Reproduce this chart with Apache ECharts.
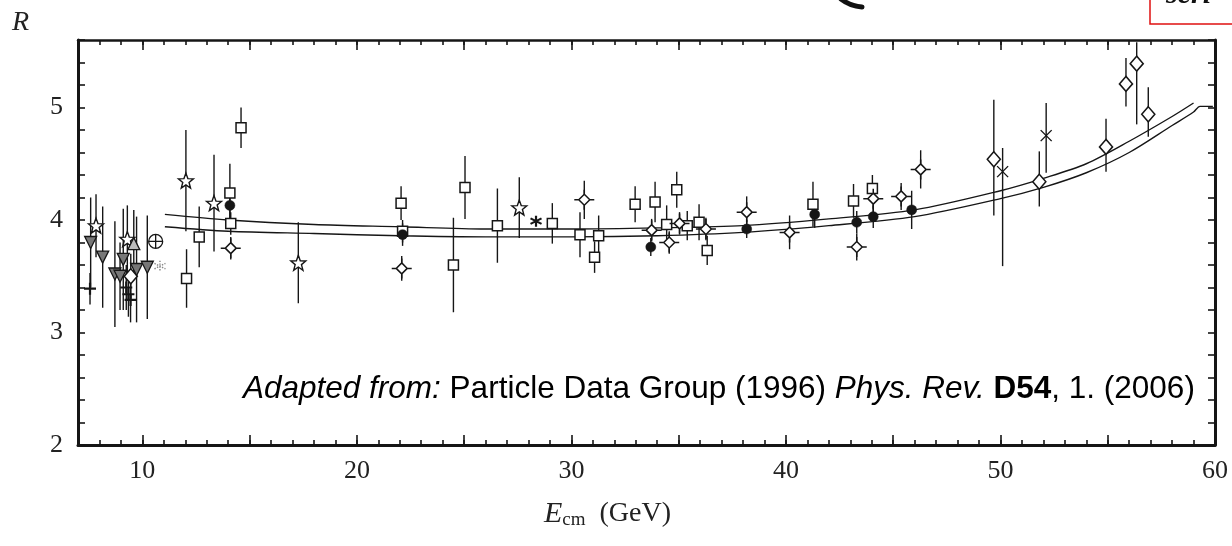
<!DOCTYPE html>
<html>
<head>
<meta charset="utf-8">
<script src="https://cdn.jsdelivr.net/npm/echarts@6/dist/echarts.min.js"></script>
<style>
html,body{margin:0;padding:0;background:#fff;}
#chart{width:1232px;height:546px;}
</style>
</head>
<body>
<div id="chart"></div>
<script>
// ---------- axis ticks / labels ----------
const xTickLabels = [10, 20, 30, 40, 50, 60];
const xMajorTicks = [10, 15, 20, 25, 30, 35, 40, 45, 50, 55, 60];
const yTickLabels = [2, 3, 4, 5];

// ---------- data (E_cm in GeV, R, symmetric error) ----------
// open stars
const starE = [7.84, 9.3, 12.03, 13.34, 17.27, 27.57];
const starR = [3.95, 3.83, 4.35, 4.15, 3.62, 4.11];
const starErr = [0.28, 0.3, 0.45, 0.43, 0.36, 0.27];

// open squares
const sqE = [12.06, 12.65, 14.08, 14.12, 14.6, 22.06, 22.13, 24.5, 25.04, 26.55, 29.11, 30.4, 31.08, 31.27, 32.97, 33.9, 34.44, 34.91, 35.4, 35.95, 36.33, 41.26, 43.15, 44.03];
const sqR = [3.48, 3.85, 4.24, 3.97, 4.82, 4.15, 3.90, 3.60, 4.29, 3.95, 3.97, 3.87, 3.67, 3.86, 4.14, 4.16, 3.96, 4.27, 3.95, 3.98, 3.73, 4.14, 4.17, 4.28];
const sqErr = [0.26, 0.27, 0.26, 0.1, 0.18, 0.15, 0.1, 0.42, 0.28, 0.33, 0.18, 0.2, 0.14, 0.18, 0.16, 0.18, 0.17, 0.16, 0.13, 0.16, 0.13, 0.2, 0.15, 0.12];

// open diamonds with cross arms
const spE = [14.12, 22.09, 30.6, 33.74, 34.56, 35.04, 36.27, 38.17, 40.17, 43.3, 44.07, 45.37, 46.28];
const spR = [3.75, 3.57, 4.18, 3.91, 3.80, 3.97, 3.92, 4.07, 3.89, 3.76, 4.19, 4.21, 4.45];
const spErr = [0.1, 0.11, 0.17, 0.1, 0.1, 0.1, 0.1, 0.14, 0.15, 0.12, 0.13, 0.12, 0.17];

// plain open diamonds (asymmetric errors)
const dE = [9.46, 49.69, 51.81, 54.92, 55.85, 56.35, 56.89];
const dR = [3.50, 4.54, 4.34, 4.65, 5.21, 5.39, 4.94];
const dErrUp = [0.2, 0.53, 0.27, 0.25, 0.23, 0.19, 0.24];
const dErrDn = [0.2, 0.5, 0.22, 0.22, 0.2, 0.54, 0.2];

// filled circles
const cE = [14.08, 22.13, 33.7, 38.17, 41.34, 43.3, 44.07, 45.86];
const cR = [4.13, 3.87, 3.76, 3.92, 4.05, 3.98, 4.03, 4.09];
const cErr = [0.15, 0.1, 0.08, 0.08, 0.12, 0.1, 0.1, 0.17];

// down triangles (grey)
const tdE = [7.59, 8.15, 8.72, 8.96, 9.11, 9.73, 10.23];
const tdR = [3.80, 3.67, 3.52, 3.50, 3.65, 3.56, 3.58];
const tdErr = [0.4, 0.45, 0.47, 0.3, 0.45, 0.47, 0.46];

// up triangle
const tuE = [9.6];
const tuR = [3.79];
const tuErr = [0.3];

// plus markers
const plE = [7.56, 9.25, 9.35, 9.45];
const plR = [3.39, 3.40, 3.34, 3.29];
const plErr = [0.14, 0.2, 0.2, 0.2];

// circled plus
const opE = [10.62];
const opR = [3.81];

// asterisks
const asE = [28.35];
const asR = [3.99];
const asGreyE = [10.82];
const asGreyR = [3.59];

// crosses (x)
const xE = [50.1, 52.13];
const xR = [4.43, 4.75];
const xErrUp = [0.21, 0.29];
const xErrDn = [0.84, 0.33];

// theory band (two curves)
const thE1 = [11.05, 14, 18, 22, 26, 30, 34, 38, 42, 46, 50, 52, 54, 56, 58, 59.0];
const thR1 = [4.05, 4.00, 3.96, 3.94, 3.92, 3.92, 3.93, 3.95, 4.01, 4.09, 4.26, 4.37, 4.50, 4.70, 4.92, 5.04];
const thE2 = [11.05, 14, 18, 22, 26, 30, 34, 38, 42, 46, 50, 52, 54, 56, 58, 59.0, 59.3, 59.9];
const thR2 = [3.94, 3.90, 3.88, 3.86, 3.85, 3.85, 3.86, 3.89, 3.95, 4.03, 4.19, 4.29, 4.42, 4.60, 4.84, 4.96, 5.01, 5.01];

// ---------- helpers ----------
const zip = (a, b) => a.map((v, i) => [v, b[i]]);
const errBars = [];
function addErr(E, R, up, dn) {
  E.forEach((e, i) => {
    const u = Array.isArray(up) ? up[i] : up;
    const d = dn === undefined ? u : (Array.isArray(dn) ? dn[i] : dn);
    if (u || d) errBars.push([e, R[i] - d, R[i] + u]);
  });
}
addErr(starE, starR, starErr);
addErr(sqE, sqR, sqErr);
addErr(spE, spR, spErr);
addErr(dE, dR, dErrUp, dErrDn);
addErr(cE, cR, cErr);
addErr(tdE, tdR, tdErr);
addErr(tuE, tuR, tuErr);
addErr(plE, plR, plErr);
addErr(xE, xR, xErrUp, xErrDn);

const STAR = 'path://M0,-10 L2.47,-3.4 L9.51,-3.09 L3.99,1.3 L5.88,8.09 L0,4.2 L-5.88,8.09 L-3.99,1.3 L-9.51,-3.09 L-2.47,-3.4 Z';
const SPARK = 'path://M0,-10 L0,-5.5 M0,5.5 L0,10 M-10,0 L-5.5,0 M5.5,0 L10,0 M0,-5.5 L5.5,0 L0,5.5 L-5.5,0 Z';
const PLUS = 'path://M0,-10 L0,10 M-10,0 L10,0';
const CROSS = 'path://M-10,-10 L10,10 M-10,10 L10,-10';
const ASTER = 'path://M0,-10 L0,10 M-8.7,-5 L8.7,5 M-8.7,5 L8.7,-5';
const OPLUS = 'path://M-10,0 A10,10 0 1,0 10,0 A10,10 0 1,0 -10,0 Z M-10,0 L10,0 M0,-10 L0,10';

const INK = '#161616';
const serif = '"Liberation Serif", "DejaVu Serif", serif';
const sans = '"Liberation Sans", Arial, sans-serif';

function scat(name, E, R, symbol, size, fill, lw, extra) {
  return Object.assign({
    name, type: 'scatter', data: zip(E, R), symbol, symbolSize: size,
    itemStyle: { color: fill, borderColor: INK, borderWidth: lw, opacity: 1 },
    z: 5, silent: true, clip: true
  }, extra || {});
}

const chart = echarts.init(document.getElementById('chart'), null, { renderer: 'canvas' });

const axisTickBase = { inside: true, lineStyle: { color: INK, width: 1.6 } };

const option = {
  backgroundColor: '#ffffff',
  animation: false,
  grid: { left: 78, right: 17, top: 40, bottom: 101, containLabel: false },
  xAxis: [
    { type: 'value', min: 7, max: 60, interval: 1, position: 'bottom',
      axisLine: { show: true, lineStyle: { color: INK, width: 3 } },
      axisTick: Object.assign({ length: 5 }, axisTickBase),
      axisLabel: { customValues: xTickLabels, color: '#222', fontFamily: serif, fontSize: 26, margin: 13 },
      splitLine: { show: false } },
    { type: 'value', min: 7, max: 60, position: 'bottom',
      axisLine: { show: false }, axisLabel: { show: false }, splitLine: { show: false },
      axisTick: Object.assign({ length: 10, customValues: xMajorTicks }, axisTickBase) },
    { type: 'value', min: 7, max: 60, interval: 1, position: 'top',
      axisLine: { show: true, lineStyle: { color: INK, width: 2.5 } },
      axisTick: Object.assign({ length: 5 }, axisTickBase),
      axisLabel: { show: false }, splitLine: { show: false } },
    { type: 'value', min: 7, max: 60, position: 'top',
      axisLine: { show: false }, axisLabel: { show: false }, splitLine: { show: false },
      axisTick: Object.assign({ length: 10, customValues: xMajorTicks }, axisTickBase) }
  ],
  yAxis: [
    { type: 'value', min: 2, max: 5.6, interval: 0.2, position: 'left',
      axisLine: { show: true, lineStyle: { color: INK, width: 3 } },
      axisTick: Object.assign({ length: 7 }, axisTickBase),
      axisLabel: { customValues: yTickLabels, color: '#222', fontFamily: serif, fontSize: 26, margin: 15 },
      splitLine: { show: false } },
    { type: 'value', min: 2, max: 5.6, interval: 0.2, position: 'right',
      axisLine: { show: true, lineStyle: { color: INK, width: 3 } },
      axisTick: Object.assign({ length: 7 }, axisTickBase),
      axisLabel: { show: false }, splitLine: { show: false } }
  ],
  series: [
    { name: 'theory upper', type: 'line', data: zip(thE1, thR1), showSymbol: false, smooth: 0.3,
      lineStyle: { color: INK, width: 1.4 }, z: 2, silent: true },
    { name: 'theory lower', type: 'line', data: zip(thE2, thR2), showSymbol: false, smooth: 0.3,
      lineStyle: { color: INK, width: 1.4 }, z: 2, silent: true },
    { name: 'errors', type: 'custom', data: errBars, clip: true, z: 3, silent: true,
      renderItem: function (params, api) {
        const p1 = api.coord([api.value(0), api.value(1)]);
        const p2 = api.coord([api.value(0), api.value(2)]);
        return { type: 'line', shape: { x1: p1[0], y1: p1[1], x2: p2[0], y2: p2[1] },
          style: { stroke: INK, lineWidth: 1.4 } };
      } },
    scat('stars', starE, starR, STAR, 15, '#fff', 1.4),
    scat('squares', sqE, sqR, 'rect', 10, '#fff', 1.5),
    scat('diamonds arms', spE, spR, SPARK, 20, '#fff', 1.5),
    scat('diamonds', dE, dR, 'diamond', [13, 15], '#fff', 1.6),
    scat('circles', cE, cR, 'circle', 10, INK, 0.5),
    scat('down triangles', tdE, tdR, 'triangle', 12, '#777', 1.3, { symbolRotate: 180 }),
    scat('up triangle', tuE, tuR, 'triangle', 12, '#bbb', 1.3),
    scat('plus', plE, plR, PLUS, 12, INK, 2.2),
    scat('circled plus', opE, opR, OPLUS, 14, '#fff', 1.3),
    scat('asterisk', asE, asR, ASTER, 11, INK, 2.2),
    scat('asterisk grey', asGreyE, asGreyR, ASTER, 11, '#666', 1.3, { itemStyle: { color: '#666', borderColor: '#666', borderWidth: 1.4, borderType: 'dotted' } }),
    scat('cross', xE, xR, CROSS, 11, INK, 1.4)
  ],
  graphic: [
    { type: 'text', left: 12, top: 9, style: { text: 'R', font: 'italic 28px ' + serif, fill: '#222' } },
    { type: 'text', left: 544, top: 499, style: {
        text: '{e|E}{s|cm}{n|  (GeV)}',
        rich: {
          e: { font: 'italic 30px ' + serif, fill: '#222' },
          s: { font: '19px ' + serif, fill: '#222', verticalAlign: 'bottom', padding: [13, 0, 0, 0] },
          n: { font: '28px ' + serif, fill: '#222' }
        } } },
    { type: 'text', left: 243, top: 373, z: 10, style: {
        text: '{i|Adapted from: }{r|Particle Data Group (1996) }{i|Phys. Rev. }{b|D54}{r|, 1. (2006)}',
        rich: {
          i: { font: 'italic 31.5px ' + sans, fill: '#000' },
          r: { font: '31.5px ' + sans, fill: '#000' },
          b: { font: 'bold 31.5px ' + sans, fill: '#000' }
        } } },
    { type: 'rect', shape: { x: 1150, y: -10, width: 100, height: 34 }, style: { fill: '#fff', stroke: '#e01010', lineWidth: 1.5 } },
    { type: 'text', left: 1166, top: -20, style: { text: 'scri', font: 'italic bold 30px ' + serif, fill: '#111' } },
    { type: 'bezierCurve', shape: { x1: 841, y1: -1, cpx1: 850, cpy1: 6, x2: 862, y2: 7 }, style: { stroke: '#111', lineWidth: 5, fill: null, lineCap: 'round' } }
  ]
};
chart.setOption(option);
</script>
</body>
</html>
